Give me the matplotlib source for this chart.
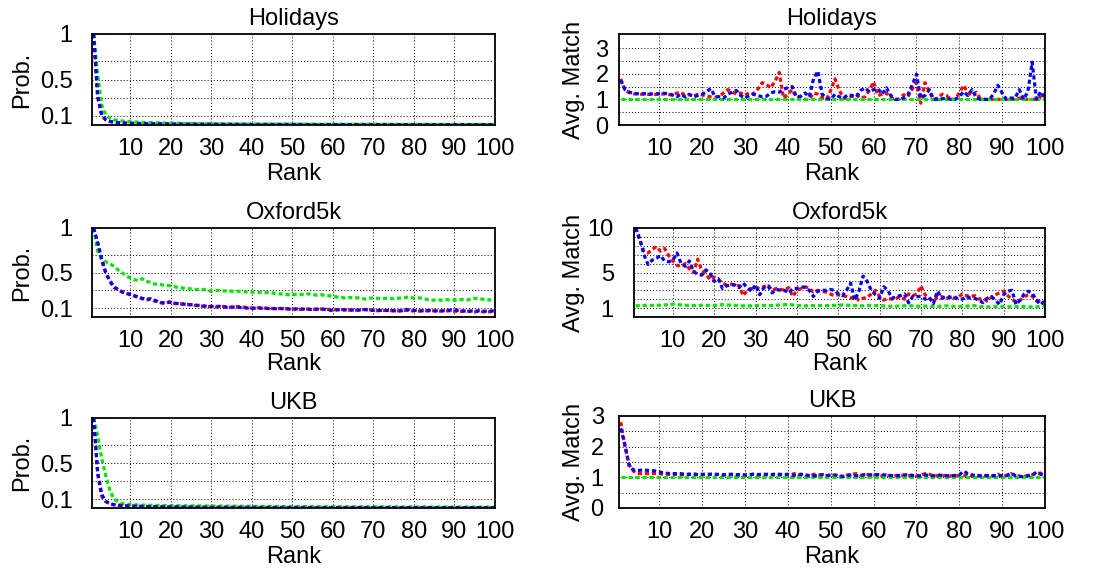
import matplotlib
matplotlib.use("Agg")
import matplotlib.pyplot as plt

plt.rcParams['font.family'] = ['Liberation Sans', 'DejaVu Sans']
plt.rcParams['font.size'] = 17

# ---------------------------------------------------------------- data
ranks = list(range(1, 101))
rank_ticks = [10, 20, 30, 40, 50, 60, 70, 80, 90, 100]

# Probability of a correct match at each rank
hol_prob_red = [
    1.000, 0.300, 0.100, 0.055, 0.038, 0.030, 0.026, 0.022, 0.020, 0.018,
    0.017, 0.016, 0.015, 0.014, 0.013, 0.013, 0.012, 0.012, 0.011, 0.011,
    0.010, 0.010, 0.010, 0.009, 0.009, 0.009, 0.009, 0.008, 0.008, 0.008,
    0.008, 0.008, 0.007, 0.007, 0.007, 0.007, 0.007, 0.007, 0.007, 0.006,
    0.006, 0.006, 0.006, 0.006, 0.006, 0.006, 0.006, 0.006, 0.006, 0.006,
    0.006, 0.006, 0.005, 0.005, 0.005, 0.005, 0.005, 0.005, 0.005, 0.005,
    0.005, 0.005, 0.005, 0.005, 0.005, 0.005, 0.005, 0.005, 0.005, 0.005,
    0.005, 0.005, 0.005, 0.005, 0.004, 0.004, 0.004, 0.004, 0.004, 0.004,
    0.004, 0.004, 0.004, 0.004, 0.004, 0.004, 0.004, 0.004, 0.004, 0.004,
    0.004, 0.004, 0.004, 0.004, 0.004, 0.004, 0.004, 0.004, 0.004, 0.004]
hol_prob_green = [
    1.000, 0.550, 0.220, 0.110, 0.075, 0.058, 0.050, 0.044, 0.040, 0.037,
    0.034, 0.031, 0.029, 0.027, 0.026, 0.024, 0.023, 0.022, 0.021, 0.020,
    0.019, 0.018, 0.017, 0.016, 0.016, 0.015, 0.014, 0.014, 0.013, 0.013,
    0.012, 0.012, 0.012, 0.011, 0.011, 0.011, 0.010, 0.010, 0.010, 0.010,
    0.009, 0.009, 0.009, 0.009, 0.009, 0.009, 0.009, 0.009, 0.009, 0.009,
    0.009, 0.009, 0.008, 0.008, 0.008, 0.008, 0.008, 0.008, 0.008, 0.008,
    0.008, 0.008, 0.008, 0.008, 0.008, 0.008, 0.008, 0.008, 0.008, 0.008,
    0.007, 0.007, 0.007, 0.007, 0.007, 0.007, 0.007, 0.007, 0.007, 0.007,
    0.007, 0.007, 0.007, 0.007, 0.007, 0.006, 0.006, 0.006, 0.006, 0.006,
    0.006, 0.006, 0.006, 0.006, 0.006, 0.006, 0.006, 0.006, 0.006, 0.006]
hol_prob_blue = [
    1.000, 0.320, 0.110, 0.058, 0.040, 0.031, 0.027, 0.023, 0.021, 0.019,
    0.018, 0.017, 0.016, 0.015, 0.014, 0.013, 0.013, 0.012, 0.012, 0.011,
    0.010, 0.010, 0.010, 0.009, 0.009, 0.009, 0.009, 0.008, 0.008, 0.008,
    0.008, 0.008, 0.007, 0.007, 0.007, 0.007, 0.007, 0.007, 0.007, 0.006,
    0.006, 0.006, 0.006, 0.006, 0.006, 0.006, 0.006, 0.006, 0.006, 0.006,
    0.006, 0.006, 0.005, 0.005, 0.005, 0.005, 0.005, 0.005, 0.005, 0.005,
    0.005, 0.005, 0.005, 0.005, 0.005, 0.005, 0.005, 0.005, 0.005, 0.005,
    0.005, 0.005, 0.005, 0.005, 0.004, 0.004, 0.004, 0.004, 0.004, 0.004,
    0.004, 0.004, 0.004, 0.004, 0.004, 0.004, 0.004, 0.004, 0.004, 0.004,
    0.004, 0.004, 0.004, 0.004, 0.004, 0.004, 0.004, 0.004, 0.004, 0.004]

oxf_prob_red = [
    1.000, 0.820, 0.630, 0.490, 0.400, 0.330, 0.310, 0.280, 0.265, 0.250,
    0.235, 0.220, 0.205, 0.190, 0.200, 0.180, 0.165, 0.155, 0.160, 0.175,
    0.150, 0.145, 0.148, 0.142, 0.138, 0.130, 0.125, 0.120, 0.118, 0.115,
    0.112, 0.115, 0.118, 0.105, 0.110, 0.115, 0.118, 0.110, 0.105, 0.100,
    0.102, 0.104, 0.100, 0.098, 0.096, 0.095, 0.096, 0.094, 0.092, 0.090,
    0.088, 0.085, 0.088, 0.090, 0.085, 0.088, 0.090, 0.088, 0.085, 0.080,
    0.082, 0.085, 0.080, 0.078, 0.075, 0.078, 0.082, 0.085, 0.082, 0.075,
    0.070, 0.072, 0.074, 0.072, 0.070, 0.068, 0.072, 0.075, 0.070, 0.068,
    0.066, 0.068, 0.070, 0.072, 0.068, 0.065, 0.066, 0.068, 0.070, 0.065,
    0.062, 0.064, 0.066, 0.060, 0.058, 0.062, 0.058, 0.056, 0.060, 0.058]
oxf_prob_green = [
    1.000, 0.740, 0.660, 0.620, 0.600, 0.570, 0.530, 0.500, 0.460, 0.440,
    0.420, 0.410, 0.430, 0.400, 0.390, 0.370, 0.370, 0.360, 0.355, 0.350,
    0.340, 0.330, 0.325, 0.320, 0.315, 0.310, 0.310, 0.310, 0.300, 0.290,
    0.295, 0.300, 0.295, 0.290, 0.290, 0.288, 0.290, 0.285, 0.280, 0.280,
    0.280, 0.275, 0.272, 0.275, 0.270, 0.265, 0.260, 0.255, 0.250, 0.250,
    0.255, 0.255, 0.250, 0.260, 0.255, 0.245, 0.250, 0.245, 0.240, 0.230,
    0.225, 0.220, 0.215, 0.220, 0.215, 0.215, 0.212, 0.200, 0.210, 0.215,
    0.210, 0.205, 0.210, 0.210, 0.205, 0.210, 0.215, 0.220, 0.225, 0.210,
    0.215, 0.210, 0.200, 0.185, 0.190, 0.190, 0.190, 0.195, 0.190, 0.190,
    0.195, 0.195, 0.190, 0.200, 0.210, 0.205, 0.200, 0.195, 0.190, 0.188]
oxf_prob_blue = [
    1.000, 0.840, 0.650, 0.500, 0.410, 0.340, 0.310, 0.285, 0.270, 0.255,
    0.240, 0.225, 0.210, 0.200, 0.205, 0.190, 0.170, 0.160, 0.162, 0.165,
    0.155, 0.150, 0.145, 0.140, 0.138, 0.135, 0.130, 0.125, 0.120, 0.120,
    0.118, 0.120, 0.115, 0.110, 0.112, 0.110, 0.108, 0.104, 0.100, 0.098,
    0.100, 0.100, 0.098, 0.095, 0.094, 0.093, 0.095, 0.092, 0.090, 0.088,
    0.090, 0.092, 0.088, 0.086, 0.085, 0.088, 0.090, 0.086, 0.080, 0.072,
    0.080, 0.082, 0.080, 0.078, 0.078, 0.076, 0.080, 0.082, 0.078, 0.075,
    0.076, 0.074, 0.075, 0.072, 0.070, 0.068, 0.070, 0.085, 0.078, 0.074,
    0.072, 0.070, 0.070, 0.072, 0.070, 0.068, 0.070, 0.072, 0.078, 0.082,
    0.072, 0.068, 0.066, 0.068, 0.066, 0.070, 0.066, 0.064, 0.068, 0.068]

ukb_prob_red = [
    1.000, 0.370, 0.130, 0.070, 0.045, 0.035, 0.030, 0.026, 0.024, 0.022,
    0.020, 0.018, 0.017, 0.016, 0.015, 0.014, 0.013, 0.013, 0.012, 0.012,
    0.011, 0.011, 0.010, 0.010, 0.010, 0.009, 0.009, 0.009, 0.009, 0.008,
    0.008, 0.008, 0.008, 0.008, 0.007, 0.007, 0.007, 0.007, 0.007, 0.007,
    0.007, 0.006, 0.006, 0.006, 0.006, 0.006, 0.006, 0.006, 0.006, 0.006,
    0.006, 0.006, 0.006, 0.005, 0.005, 0.005, 0.005, 0.005, 0.005, 0.005,
    0.005, 0.005, 0.005, 0.005, 0.005, 0.005, 0.005, 0.005, 0.005, 0.005,
    0.005, 0.005, 0.005, 0.005, 0.005, 0.004, 0.004, 0.004, 0.004, 0.004,
    0.004, 0.004, 0.004, 0.004, 0.004, 0.004, 0.004, 0.004, 0.004, 0.004,
    0.004, 0.004, 0.004, 0.004, 0.004, 0.004, 0.004, 0.004, 0.004, 0.004]
ukb_prob_green = [
    1.000, 0.800, 0.550, 0.360, 0.200, 0.100, 0.070, 0.050, 0.042, 0.038,
    0.035, 0.033, 0.032, 0.031, 0.030, 0.029, 0.028, 0.028, 0.027, 0.026,
    0.026, 0.025, 0.025, 0.024, 0.024, 0.023, 0.023, 0.022, 0.022, 0.022,
    0.021, 0.021, 0.021, 0.020, 0.020, 0.020, 0.019, 0.019, 0.019, 0.018,
    0.018, 0.018, 0.017, 0.017, 0.017, 0.017, 0.016, 0.016, 0.016, 0.016,
    0.015, 0.015, 0.015, 0.015, 0.015, 0.014, 0.014, 0.014, 0.014, 0.014,
    0.014, 0.014, 0.014, 0.013, 0.013, 0.013, 0.013, 0.013, 0.013, 0.013,
    0.013, 0.013, 0.012, 0.012, 0.012, 0.012, 0.012, 0.012, 0.012, 0.012,
    0.012, 0.012, 0.012, 0.011, 0.011, 0.011, 0.011, 0.011, 0.011, 0.011,
    0.011, 0.011, 0.011, 0.011, 0.010, 0.010, 0.010, 0.010, 0.010, 0.010]
ukb_prob_blue = [
    1.000, 0.400, 0.150, 0.075, 0.050, 0.038, 0.032, 0.027, 0.025, 0.023,
    0.021, 0.019, 0.018, 0.016, 0.015, 0.014, 0.014, 0.013, 0.012, 0.012,
    0.011, 0.011, 0.010, 0.010, 0.010, 0.009, 0.009, 0.009, 0.009, 0.008,
    0.008, 0.008, 0.008, 0.008, 0.007, 0.007, 0.007, 0.007, 0.007, 0.007,
    0.007, 0.006, 0.006, 0.006, 0.006, 0.006, 0.006, 0.006, 0.006, 0.006,
    0.006, 0.006, 0.006, 0.005, 0.005, 0.005, 0.005, 0.005, 0.005, 0.005,
    0.005, 0.005, 0.005, 0.005, 0.005, 0.005, 0.005, 0.005, 0.005, 0.005,
    0.005, 0.005, 0.005, 0.005, 0.005, 0.004, 0.004, 0.004, 0.004, 0.004,
    0.004, 0.004, 0.004, 0.004, 0.004, 0.004, 0.004, 0.004, 0.004, 0.004,
    0.004, 0.004, 0.004, 0.004, 0.004, 0.004, 0.004, 0.004, 0.004, 0.004]

# Average number of matches at each rank
hol_match_red = [
    1.80, 1.36, 1.26, 1.22, 1.20, 1.20, 1.20, 1.19, 1.19, 1.20,
    1.21, 1.20, 1.16, 1.24, 1.28, 1.15, 1.18, 1.12, 1.20, 1.18,
    1.12, 1.10, 1.08, 1.12, 1.25, 1.38, 1.30, 1.20, 1.25, 1.16,
    1.26, 1.22, 1.40, 1.65, 1.58, 1.45, 1.70, 2.05, 1.05, 1.20,
    1.38, 1.08, 1.05, 1.00, 1.00, 1.25, 1.20, 1.05, 1.00, 1.35,
    1.80, 1.35, 1.05, 1.05, 1.12, 1.18, 1.05, 1.10, 1.35, 1.68,
    1.15, 1.20, 1.25, 1.05, 1.00, 1.00, 1.18, 1.10, 1.40, 1.65,
    0.85, 1.65, 1.30, 1.00, 1.05, 1.20, 1.15, 1.00, 1.00, 1.25,
    1.55, 1.25, 1.15, 1.28, 1.00, 1.00, 1.00, 1.00, 1.00, 1.00,
    1.00, 1.00, 1.00, 1.05, 1.00, 1.00, 1.00, 1.00, 1.10, 1.00]
hol_match_green = [
    1.00, 1.00, 1.00, 1.00, 1.00, 1.00, 1.00, 1.00, 1.00, 1.00,
    1.00, 1.00, 1.00, 1.00, 1.00, 1.00, 1.00, 1.00, 1.00, 1.00,
    1.00, 1.00, 1.00, 1.00, 1.00, 1.00, 1.00, 1.00, 1.00, 1.00,
    1.00, 1.00, 1.00, 1.00, 1.00, 1.00, 1.00, 1.00, 1.00, 1.00,
    1.00, 1.00, 1.00, 1.00, 1.00, 1.00, 1.00, 1.00, 1.00, 1.00,
    1.00, 1.00, 1.00, 1.00, 1.00, 1.00, 1.00, 1.00, 1.00, 1.00,
    1.00, 1.00, 1.00, 1.00, 1.00, 1.00, 1.00, 1.00, 1.00, 1.00,
    1.00, 1.00, 1.00, 1.00, 1.00, 1.00, 1.00, 1.00, 1.00, 1.00,
    1.00, 1.00, 1.00, 1.00, 1.00, 1.00, 1.00, 1.00, 1.00, 1.00,
    1.00, 1.00, 1.00, 1.00, 1.00, 1.00, 1.00, 1.00, 1.00, 1.00]
hol_match_blue = [
    1.75, 1.38, 1.28, 1.24, 1.22, 1.22, 1.22, 1.21, 1.22, 1.22,
    1.24, 1.22, 1.18, 1.10, 1.20, 1.10, 1.20, 1.10, 1.15, 1.20,
    1.30, 1.42, 1.12, 1.10, 1.05, 1.20, 1.28, 1.35, 1.15, 1.05,
    1.15, 1.20, 1.15, 1.10, 1.12, 1.25, 1.30, 1.28, 1.40, 1.45,
    1.50, 1.10, 1.12, 1.25, 1.10, 1.80, 2.10, 1.20, 1.05, 1.00,
    1.20, 1.10, 1.05, 1.18, 1.15, 1.10, 1.35, 1.45, 1.30, 1.38,
    1.42, 1.20, 1.45, 1.15, 1.00, 1.00, 1.05, 1.18, 1.55, 1.98,
    1.05, 1.15, 1.38, 1.00, 1.00, 1.02, 1.05, 1.00, 1.00, 1.10,
    1.30, 1.15, 1.38, 1.05, 1.00, 1.00, 1.00, 1.20, 1.55, 1.25,
    1.00, 1.05, 1.05, 1.38, 1.00, 1.30, 2.45, 1.00, 1.30, 1.05]

oxf_match_red = [
    10.0, 8.6, 7.4, 7.2, 7.6, 7.9, 7.4, 7.7, 6.9, 6.3,
    5.8, 5.7, 6.0, 5.4, 5.0, 6.5, 5.2, 4.8, 4.2, 4.5,
    4.2, 3.8, 3.6, 3.7, 3.6, 3.5, 2.4, 3.0, 3.2, 3.3,
    3.2, 3.4, 3.6, 3.0, 3.2, 3.1, 3.0, 3.3, 2.3, 3.0,
    3.2, 3.4, 3.2, 2.8, 3.0, 2.9, 2.8, 2.6, 2.4, 2.5,
    2.4, 2.3, 2.1, 2.3, 1.9, 2.1, 2.2, 2.6, 3.0, 2.3,
    1.9, 2.1, 2.0, 2.1, 2.3, 2.0, 2.6, 2.4, 2.6, 3.5,
    2.5, 2.1, 1.8, 2.2, 2.3, 2.0, 2.3, 2.1, 2.2, 2.6,
    2.4, 2.3, 2.4, 2.0, 2.1, 1.8, 2.2, 2.5, 2.7, 2.9,
    2.4, 2.0, 1.7, 1.9, 2.3, 2.5, 2.3, 1.9, 1.6, 1.4]
oxf_match_green = [
    1.25, 1.28, 1.30, 1.32, 1.30, 1.33, 1.32, 1.35, 1.38, 1.45,
    1.40, 1.35, 1.32, 1.30, 1.30, 1.28, 1.32, 1.30, 1.32, 1.30,
    1.35, 1.38, 1.35, 1.33, 1.32, 1.28, 1.25, 1.25, 1.26, 1.28,
    1.32, 1.30, 1.28, 1.30, 1.32, 1.35, 1.38, 1.40, 1.35, 1.30,
    1.28, 1.25, 1.26, 1.28, 1.30, 1.28, 1.27, 1.28, 1.30, 1.32,
    1.35, 1.33, 1.30, 1.28, 1.26, 1.25, 1.28, 1.30, 1.28, 1.27,
    1.25, 1.22, 1.20, 1.22, 1.24, 1.26, 1.28, 1.25, 1.22, 1.20,
    1.22, 1.20, 1.18, 1.20, 1.22, 1.25, 1.22, 1.20, 1.18, 1.20,
    1.22, 1.25, 1.28, 1.20, 1.15, 1.12, 1.15, 1.18, 1.20, 1.18,
    1.16, 1.15, 1.18, 1.20, 1.18, 1.15, 1.12, 1.15, 1.18, 1.20]
oxf_match_blue = [
    10.0, 8.8, 7.0, 5.9, 6.4, 6.6, 6.9, 6.3, 6.2, 6.4,
    7.2, 6.0, 5.7, 6.3, 5.1, 4.8, 4.7, 5.3, 4.9, 4.0,
    4.3, 3.2, 3.5, 3.6, 3.6, 3.3, 3.8, 3.3, 2.9, 3.6,
    2.5, 3.3, 3.5, 2.7, 3.1, 3.0, 3.0, 2.7, 3.2, 3.2,
    3.4, 3.3, 3.0, 2.3, 2.9, 3.0, 3.0, 3.1, 3.0, 2.6,
    2.4, 3.0, 3.8, 1.9, 2.9, 4.6, 4.0, 3.0, 2.5, 2.1,
    3.4, 3.0, 2.1, 2.3, 2.4, 2.6, 1.6, 2.3, 2.3, 2.3,
    2.0, 2.2, 1.5, 2.9, 2.1, 2.3, 2.2, 2.3, 2.0, 2.0,
    2.3, 2.1, 2.1, 1.9, 1.6, 2.1, 2.3, 1.9, 1.4, 2.5,
    2.9, 3.0, 1.4, 1.9, 2.6, 2.9, 2.6, 1.8, 1.4, 1.9]

ukb_match_red = [
    2.80, 2.00, 1.40, 1.20, 1.12, 1.12, 1.12, 1.12, 1.13, 1.12,
    1.10, 1.10, 1.09, 1.10, 1.08, 1.08, 1.10, 1.12, 1.08, 1.08,
    1.09, 1.10, 1.09, 1.10, 1.08, 1.07, 1.08, 1.08, 1.07, 1.06,
    1.08, 1.10, 1.08, 1.07, 1.08, 1.07, 1.08, 1.08, 1.07, 1.08,
    1.10, 1.14, 1.05, 1.04, 1.03, 1.10, 1.08, 1.06, 1.05, 1.07,
    1.06, 1.03, 1.04, 1.08, 1.10, 1.12, 1.06, 1.10, 1.08, 1.07,
    1.06, 1.05, 1.07, 1.04, 1.05, 1.08, 1.06, 1.05, 1.07, 1.04,
    1.06, 1.12, 1.10, 1.04, 1.06, 1.05, 1.06, 1.05, 1.04, 1.06,
    1.05, 1.08, 1.04, 1.06, 1.05, 1.05, 1.04, 1.05, 1.10, 1.02,
    1.06, 1.12, 1.08, 1.04, 1.02, 1.06, 1.08, 1.12, 1.14, 1.05]
ukb_match_green = [
    1.00, 1.00, 1.00, 1.00, 1.00, 1.00, 1.00, 1.00, 1.00, 1.00,
    1.00, 1.00, 1.00, 1.00, 1.00, 1.00, 1.00, 1.00, 1.00, 1.00,
    1.00, 1.00, 1.00, 1.00, 1.00, 1.00, 1.00, 1.00, 1.00, 1.00,
    1.00, 1.00, 1.00, 1.00, 1.00, 1.00, 1.00, 1.00, 1.00, 1.00,
    1.00, 1.00, 1.00, 1.00, 1.00, 1.00, 1.00, 1.00, 1.00, 1.00,
    1.00, 1.00, 1.00, 1.00, 1.00, 1.00, 1.00, 1.00, 1.00, 1.00,
    1.00, 1.00, 1.00, 1.00, 1.00, 1.00, 1.00, 1.00, 1.00, 1.00,
    1.00, 1.00, 1.00, 1.00, 1.00, 1.00, 1.00, 1.00, 1.00, 1.00,
    1.00, 1.00, 1.00, 1.00, 1.00, 1.00, 1.00, 1.00, 1.00, 1.00,
    1.00, 1.00, 1.00, 1.00, 1.00, 1.00, 1.00, 1.00, 1.00, 1.00]
ukb_match_blue = [
    2.60, 2.05, 1.35, 1.24, 1.22, 1.24, 1.23, 1.22, 1.21, 1.18,
    1.14, 1.13, 1.12, 1.12, 1.12, 1.10, 1.10, 1.10, 1.09, 1.10,
    1.10, 1.10, 1.10, 1.09, 1.08, 1.10, 1.10, 1.08, 1.09, 1.08,
    1.09, 1.10, 1.09, 1.10, 1.10, 1.09, 1.10, 1.10, 1.09, 1.10,
    1.06, 1.08, 1.10, 1.08, 1.06, 1.05, 1.06, 1.09, 1.06, 1.07,
    1.08, 1.04, 1.03, 1.06, 1.08, 1.05, 1.06, 1.09, 1.08, 1.08,
    1.09, 1.08, 1.08, 1.06, 1.04, 1.06, 1.08, 1.08, 1.06, 1.05,
    1.05, 1.08, 1.06, 1.05, 1.07, 1.07, 1.05, 1.05, 1.06, 1.08,
    1.20, 1.12, 1.08, 1.05, 1.05, 1.06, 1.05, 1.06, 1.05, 1.06,
    1.06, 1.12, 1.06, 1.03, 1.02, 1.05, 1.08, 1.16, 1.10, 1.05]

# ---------------------------------------------------------------- style
RED, GREEN, BLUE = '#ff0000', '#00e400', '#0000ff'
LINE_DASH = (0, (1.3, 0.9))
GRID_DASH = (0, (1, 2.2))
W, H = 1109, 575

fig = plt.figure(figsize=(W / 100, H / 100), dpi=100)


def add_panel(x0, y0, x1, y1):
    """Axes placed by pixel box (left, top, right, bottom)."""
    return fig.add_axes([x0 / W, 1 - y1 / H, (x1 - x0) / W, (y1 - y0) / H])


def draw_panel(box, title, ylabel, series, ylim, yticks, ylabels, ygrid,
               ylabel_right_px, ytick_pad, xlabel_top_px):
    ax = add_panel(*box)
    for vals, col in series:
        ax.plot(ranks, vals, color=col, lw=2.3, linestyle=LINE_DASH,
                dash_capstyle='butt', solid_capstyle='butt')
    ax.set_xlim(0.6, 100)
    ax.set_ylim(*ylim)
    ax.set_xticks(rank_ticks)
    ax.set_xticklabels([str(t) for t in rank_ticks])
    ax.set_yticks(yticks)
    ax.set_yticklabels(ylabels)
    ax.set_yticks(ygrid, minor=True)
    for x in rank_ticks[:-1]:
        ax.axvline(x, color='black', lw=0.7, linestyle=GRID_DASH, zorder=0.5)
    for y in ygrid:
        ax.axhline(y, color='black', lw=0.7, linestyle=GRID_DASH, zorder=0.5)
    ax.tick_params(axis='both', which='both', direction='in', length=0,
                   labelsize=17)
    ax.tick_params(axis='x', pad=9.5)
    ax.tick_params(axis='y', pad=ytick_pad)
    for sp in ax.spines.values():
        sp.set_linewidth(1.3)
    ax.set_title(title, fontsize=17, pad=6.5)
    ax.set_xlabel('Rank', fontsize=17)
    ax.set_ylabel(ylabel, fontsize=17)
    x0, y0, x1, y1 = box
    ax.xaxis.set_label_coords(0.5, (y1 - xlabel_top_px) / (y1 - y0))
    ax.yaxis.set_label_coords((ylabel_right_px - x0) / (x1 - x0), 0.5)
    return ax


prob_ticks = [0.1, 0.5, 1.0]
prob_labels = ['0.1', '0.5', '1']
prob_grid = [0.1, 0.3, 0.5, 0.7]

# left column: probability
draw_panel((92, 34, 495, 125), 'Holidays', 'Prob.',
           [(hol_prob_red, RED), (hol_prob_green, GREEN), (hol_prob_blue, BLUE)],
           (0, 1), prob_ticks, prob_labels, prob_grid, 33, 14, 163)
draw_panel((92, 228, 495, 317), 'Oxford5k', 'Prob.',
           [(oxf_prob_red, RED), (oxf_prob_green, GREEN), (oxf_prob_blue, BLUE)],
           (0, 1), prob_ticks, prob_labels, prob_grid, 33, 14, 353)
draw_panel((92, 418, 495, 508), 'UKB', 'Prob.',
           [(ukb_prob_red, RED), (ukb_prob_green, GREEN), (ukb_prob_blue, BLUE)],
           (0, 1), prob_ticks, prob_labels, prob_grid, 33, 14, 546)

# right column: average matches
draw_panel((619, 34, 1045, 125), 'Holidays', 'Avg. Match',
           [(hol_match_red, RED), (hol_match_green, GREEN), (hol_match_blue, BLUE)],
           (0, 3.55), [0, 1, 2, 3], ['0', '1', '2', '3'],
           [0.5, 1.0, 1.5, 2.0, 2.5, 3.0], 585, 7.5, 163)
draw_panel((634, 228, 1045, 317), 'Oxford5k', 'Avg. Match',
           [(oxf_match_red, RED), (oxf_match_green, GREEN), (oxf_match_blue, BLUE)],
           (0, 10), [1, 5, 10], ['1', '5', '10'],
           [1, 2, 3, 4, 5, 6, 7, 8, 9], 585, 14.5, 353)
draw_panel((619, 416, 1045, 508), 'UKB', 'Avg. Match',
           [(ukb_match_red, RED), (ukb_match_green, GREEN), (ukb_match_blue, BLUE)],
           (0, 3), [0, 1, 2, 3], ['0', '1', '2', '3'],
           [0.5, 1.0, 1.5, 2.0, 2.5], 585, 11, 546)

fig.savefig('out.png', dpi=100)
